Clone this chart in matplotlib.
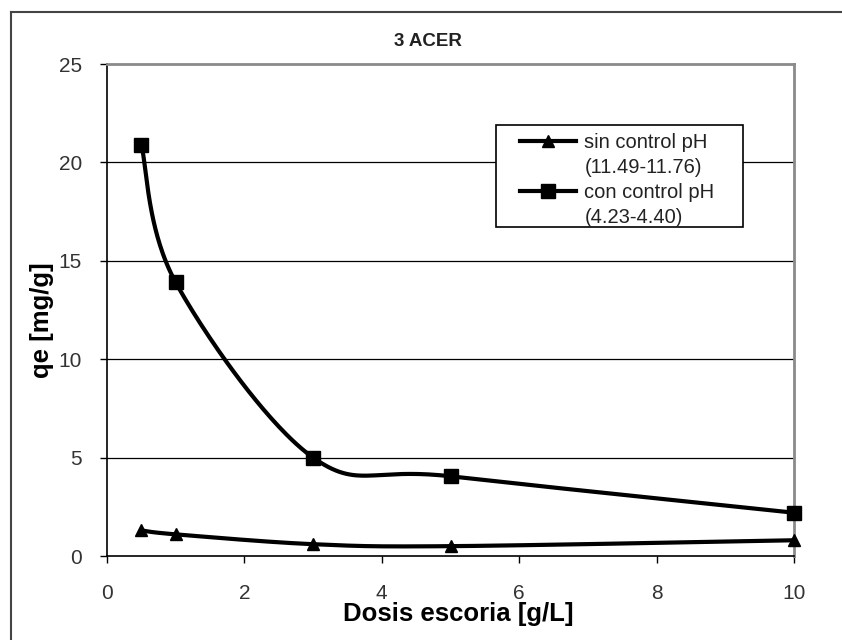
import numpy as np
import matplotlib
matplotlib.use("Agg")
import matplotlib.pyplot as plt
from matplotlib.lines import Line2D
from matplotlib.patches import Rectangle

plt.rcParams['font.family'] = ['Liberation Sans', 'DejaVu Sans']

# ---- data ----
dosis = [0.5, 1, 3, 5, 10]
qe_sin_control = [1.3, 1.1, 0.6, 0.5, 0.8]
qe_con_control = [20.9, 13.9, 5.0, 4.05, 2.2]
label_sin = ["sin control pH", "(11.49-11.76)"]
label_con = ["con control pH", "(4.23-4.40)"]
title = "3 ACER"
xlabel = "Dosis escoria [g/L]"
ylabel = "qe [mg/g]"
xticks = [0, 2, 4, 6, 8, 10]
yticks = [0, 5, 10, 15, 20, 25]

W, H = 842, 640


def excel_smooth(xs, ys, n=60):
    """Catmull-Rom style cubic Bezier smoothing (Excel 'smoothed line')."""
    P = np.column_stack([xs, ys]).astype(float)
    m = len(P)
    out = [P[0]]
    idx = [0]
    t = np.linspace(0, 1, n + 1)[1:]
    for i in range(m - 1):
        p0 = P[i - 1] if i > 0 else P[i]
        p1 = P[i]
        p2 = P[i + 1]
        p3 = P[i + 2] if i + 2 < m else P[i + 1]
        c1 = p1 + (p2 - p0) / 6.0
        c2 = p2 - (p3 - p1) / 6.0
        seg = ((1 - t) ** 3)[:, None] * p1 + (3 * (1 - t) ** 2 * t)[:, None] * c1 \
            + (3 * (1 - t) * t ** 2)[:, None] * c2 + (t ** 3)[:, None] * p2
        out.extend(seg)
        idx.append(len(out) - 1)
    out = np.array(out)
    return out[:, 0], out[:, 1], idx


fig = plt.figure(figsize=(W / 100, H / 100), dpi=100)
ax = fig.add_axes([107 / W, 1 - 556 / H, (794 - 107) / W, (556 - 64) / H])

for yv in yticks[1:-1]:
    ax.axhline(yv, color='black', lw=0.9, zorder=1)

xs, ys, idx = excel_smooth(dosis, qe_sin_control)
ax.plot(xs, ys, color='black', lw=3, marker='^', markersize=9,
        markevery=idx, clip_on=False, zorder=3)
xs, ys, idx = excel_smooth(dosis, qe_con_control)
ax.plot(xs, ys, color='black', lw=3, marker='s', markersize=10,
        markevery=idx, clip_on=False, zorder=3)

ax.set_xlim(0, 10)
ax.set_ylim(0, 25)
ax.set_xticks(xticks)
ax.set_yticks(yticks)
ax.tick_params(axis='both', direction='out', length=5, width=1, color='black',
               labelsize=15, labelcolor='#333333')
ax.tick_params(axis='x', pad=15)
ax.tick_params(axis='y', pad=13)
ax.spines['left'].set_color('black')
ax.spines['bottom'].set_color('black')
ax.spines['left'].set_linewidth(1.2)
ax.spines['bottom'].set_linewidth(1.2)
for s in ['top', 'right']:
    ax.spines[s].set_color('#8a8a8a')
    ax.spines[s].set_linewidth(2)

# legend (handles aligned with first line of each two-line label)
blank = Line2D([], [], linestyle='none', marker=None)
h1 = Line2D([], [], color='black', lw=3, marker='^', markersize=9)
h2 = Line2D([], [], color='black', lw=3, marker='s', markersize=10)
leg = ax.legend([h1, blank, h2, blank],
                [label_sin[0], label_sin[1], label_con[0], label_con[1]],
                loc='upper left', bbox_to_anchor=(520 / W, 1 - 133 / H),
                bbox_transform=fig.transFigure,
                fontsize=14.5, frameon=False, borderpad=0,
                handlelength=2.8, handletextpad=0.4, labelspacing=0.3,
                borderaxespad=0)
for t in leg.get_texts():
    t.set_color('#222222')
fig.add_artist(Rectangle((496 / W, 1 - 227 / H), (743 - 496) / W, (227 - 125) / H,
                         transform=fig.transFigure, facecolor='white',
                         edgecolor='black', lw=1.2, zorder=4))
leg.set_zorder(5)
leg.remove()
fig.add_artist(leg)

fig.text(428 / W, 1 - 41 / H, title, ha='center', va='center',
         fontsize=13.5, fontweight='bold', color='#222222')
fig.text(458 / W, 1 - 614 / H, xlabel, ha='center', va='center',
         fontsize=18.5, fontweight='bold')
fig.text(42 / W, 1 - 320 / H, ylabel, ha='center', va='center',
         fontsize=18.5, fontweight='bold', rotation=90)

# outer chart-area frame (left and top edges visible)
fig.add_artist(Line2D([11 / W, 11 / W], [0, 1 - 12 / H],
                      transform=fig.transFigure, color='#444444', lw=1.5))
fig.add_artist(Line2D([11 / W, 1], [1 - 12 / H, 1 - 12 / H],
                      transform=fig.transFigure, color='#444444', lw=1.5))

fig.savefig("out.png", dpi=100)
